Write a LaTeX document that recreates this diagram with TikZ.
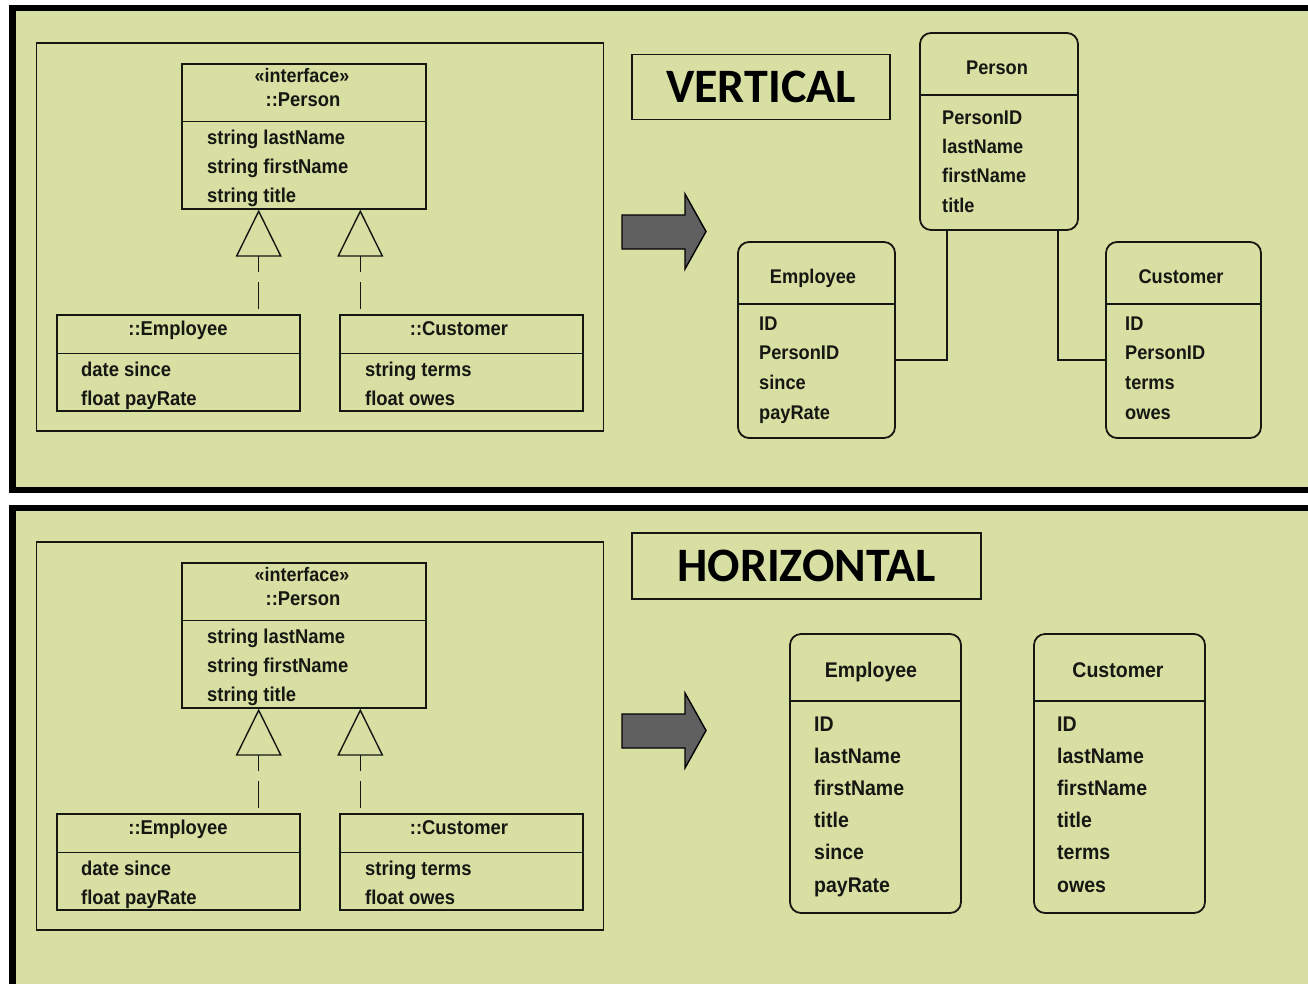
\documentclass[tikz,border=0pt]{standalone}
\usepackage{fontspec}
\setmainfont{Liberation Sans}[FakeStretch=0.92]
\newfontfamily\titlefont{Carlito}
\usetikzlibrary{arrows.meta,calc}
\definecolor{panel}{RGB}{216,223,163}
\definecolor{blockgray}{RGB}{96,96,96}
\definecolor{ink}{RGB}{22,22,18}

\tikzset{
  txt/.style={inner sep=0pt, text=ink, font=\fontsize{20}{24}\selectfont\bfseries},
  erfont/.style={font=\fontsize{19.8}{24}\selectfont\bfseries},
  erbig/.style={font=\fontsize{21.2}{25}\selectfont\bfseries},
  attr/.style={txt, anchor=base west},
  ttl/.style={txt, anchor=base},
  umlbox/.style={draw=ink, line width=1.4pt, inner sep=0pt, rectangle},
  erbox/.style={draw=ink, line width=1.8pt, inner sep=0pt, rounded corners=11pt},
  realize/.style={line width=1.4pt, draw=ink, dash pattern=on 27pt off 10pt, dash phase=32pt,
    -{Triangle[open, length=47pt, width=46pt, line width=1.4pt]}},
  link/.style={line width=1.8pt, draw=ink},
  divider/.style={line width=1.4pt, draw=ink},
  tagbox/.style={draw=ink, line width=1.8pt, inner sep=0pt, text=black,
    font=\titlefont\bfseries\fontsize{48}{50}\selectfont},
  frame/.style={draw=black, line width=6.5pt, fill=panel},
  fatarrow/.style={fill=blockgray, draw=black, line width=1.4pt, line join=miter},
}

\begin{document}
\begin{tikzpicture}[x=1pt, y=-1pt]
\useasboundingbox (0,0) rectangle (1308,983);
\fill[white] (0,0) rectangle (1308,983);

\begin{scope}
\clip (0,0) rectangle (1308,983);
% the two panels, running off the right and bottom edges
\draw[frame] (12.5,8) rectangle (1330,490);
\draw[frame] (12.5,508) rectangle (1330,1010);
\end{scope}

% ---------- UML class diagram, drawn once per panel ----------
\foreach \dy/\p in {0/v,499/h}{
  \node[umlbox, minimum width=567pt, minimum height=388pt] (\p grp) at (320,{237+\dy}) {};
  \node[umlbox, minimum width=244pt, minimum height=145pt] (\p per) at (304,{136.5+\dy}) {};
  \node[umlbox, minimum width=243pt, minimum height=96pt] (\p emp) at (178.5,{363+\dy}) {};
  \node[umlbox, minimum width=243pt, minimum height=96pt] (\p cus) at (461.5,{363+\dy}) {};

  \draw[divider] ($(\p per.north west)+(0,58)$) -- ($(\p per.north east)+(0,58)$);
  \draw[divider] ($(\p emp.north west)+(0,39)$) -- ($(\p emp.north east)+(0,39)$);
  \draw[divider] ($(\p cus.north west)+(0,39)$) -- ($(\p cus.north east)+(0,39)$);

  \node[ttl, font=\fontsize{19.5}{22}\selectfont\bfseries] (\p stereo) at (302,{82+\dy}) {«interface»};
  \node[ttl] (\p pername) at (303,{106+\dy}) {::Person};
  \node[attr] (\p pa1) at (207,{144+\dy}) {string lastName};
  \node[attr] (\p pa2) at (207,{173+\dy}) {string firstName};
  \node[attr] (\p pa3) at (207,{202+\dy}) {string title};

  \node[ttl] (\p empname) at (178,{335+\dy}) {::Employee};
  \node[attr] (\p ea1) at (81,{376+\dy}) {date since};
  \node[attr] (\p ea2) at (81,{405+\dy}) {float payRate};

  \node[ttl] (\p cusname) at (459,{335+\dy}) {::Customer};
  \node[attr] (\p ca1) at (365,{376+\dy}) {string terms};
  \node[attr] (\p ca2) at (365,{405+\dy}) {float owes};

  % realization connectors
  \coordinate (\p eup) at ($(\p emp.north east)+(-42,0)$);
  \coordinate (\p cup) at ($(\p cus.north west)+(21,0)$);
  \draw[realize] (\p eup) -- (\p eup |- \p per.south);
  \draw[realize] (\p cup) -- (\p cup |- \p per.south);

  % mapping arrow
  \draw[fatarrow] (622,{215+\dy}) -- (685,{215+\dy}) -- (685,{194+\dy}) -- (706,{231.5+\dy})
    -- (685,{269+\dy}) -- (685,{249+\dy}) -- (622,{249+\dy}) -- cycle;
}

% ---------- vertical mapping ----------
\node[tagbox, minimum width=258pt, minimum height=65pt] (vtag) at (761,87) {VERTICAL};

\node[erbox, minimum width=158pt, minimum height=197pt] (tper) at (999,131.5) {};
\node[erbox, minimum width=157pt, minimum height=196pt] (temp) at (816.5,340) {};
\node[erbox, minimum width=155pt, minimum height=196pt] (tcus) at (1183.5,340) {};
\draw[link] ($(tper.north west)+(0,63)$) -- ($(tper.north east)+(0,63)$);
\draw[link] ($(temp.north west)+(0,63)$) -- ($(temp.north east)+(0,63)$);
\draw[link] ($(tcus.north west)+(0,63)$) -- ($(tcus.north east)+(0,63)$);

\node[ttl, erfont] (tpername) at (997,74) {Person};
\foreach \t [count=\i] in {PersonID,lastName,firstName,title}
  \node[attr, erfont] (tpa\i) at (942,{124+29.4*(\i-1)}) {\t};

\node[ttl, erfont] (tempname) at (813,283) {Employee};
\foreach \t [count=\i] in {ID,PersonID,since,payRate}
  \node[attr, erfont] (tea\i) at (759,{330+29.7*(\i-1)}) {\t};

\node[ttl, erfont] (tcusname) at (1181,283) {Customer};
\foreach \t [count=\i] in {ID,PersonID,terms,owes}
  \node[attr, erfont] (tca\i) at (1125,{330+29.7*(\i-1)}) {\t};

\coordinate (tpe) at ($(tper.south west)+(28,0)$);
\coordinate (tpc) at ($(tper.south east)+(-21,0)$);
\coordinate (tej) at ($(temp.north east)+(0,119)$);
\coordinate (tcj) at ($(tcus.north west)+(0,119)$);
\draw[link] (tpe) |- (tej);
\draw[link] (tpc) |- (tcj);

% ---------- horizontal mapping ----------
\node[tagbox, minimum width=349pt, minimum height=66pt] (htag) at (806.5,566) {HORIZONTAL};

\node[erbox, minimum width=171pt, minimum height=279pt] (hemp) at (875.5,773.5) {};
\node[erbox, minimum width=171pt, minimum height=279pt] (hcus) at (1119.5,773.5) {};
\draw[link] ($(hemp.north west)+(0,68)$) -- ($(hemp.north east)+(0,68)$);
\draw[link] ($(hcus.north west)+(0,68)$) -- ($(hcus.north east)+(0,68)$);

\node[ttl, erbig] (hempname) at (871,677) {Employee};
\foreach \t [count=\i] in {ID,lastName,firstName,title,since,payRate}
  \node[attr, erbig] (hea\i) at (814,{731+32.2*(\i-1)}) {\t};

\node[ttl, erbig] (hcusname) at (1118,677) {Customer};
\foreach \t [count=\i] in {ID,lastName,firstName,title,terms,owes}
  \node[attr, erbig] (hca\i) at (1057,{731+32.2*(\i-1)}) {\t};

\end{tikzpicture}
\end{document}
